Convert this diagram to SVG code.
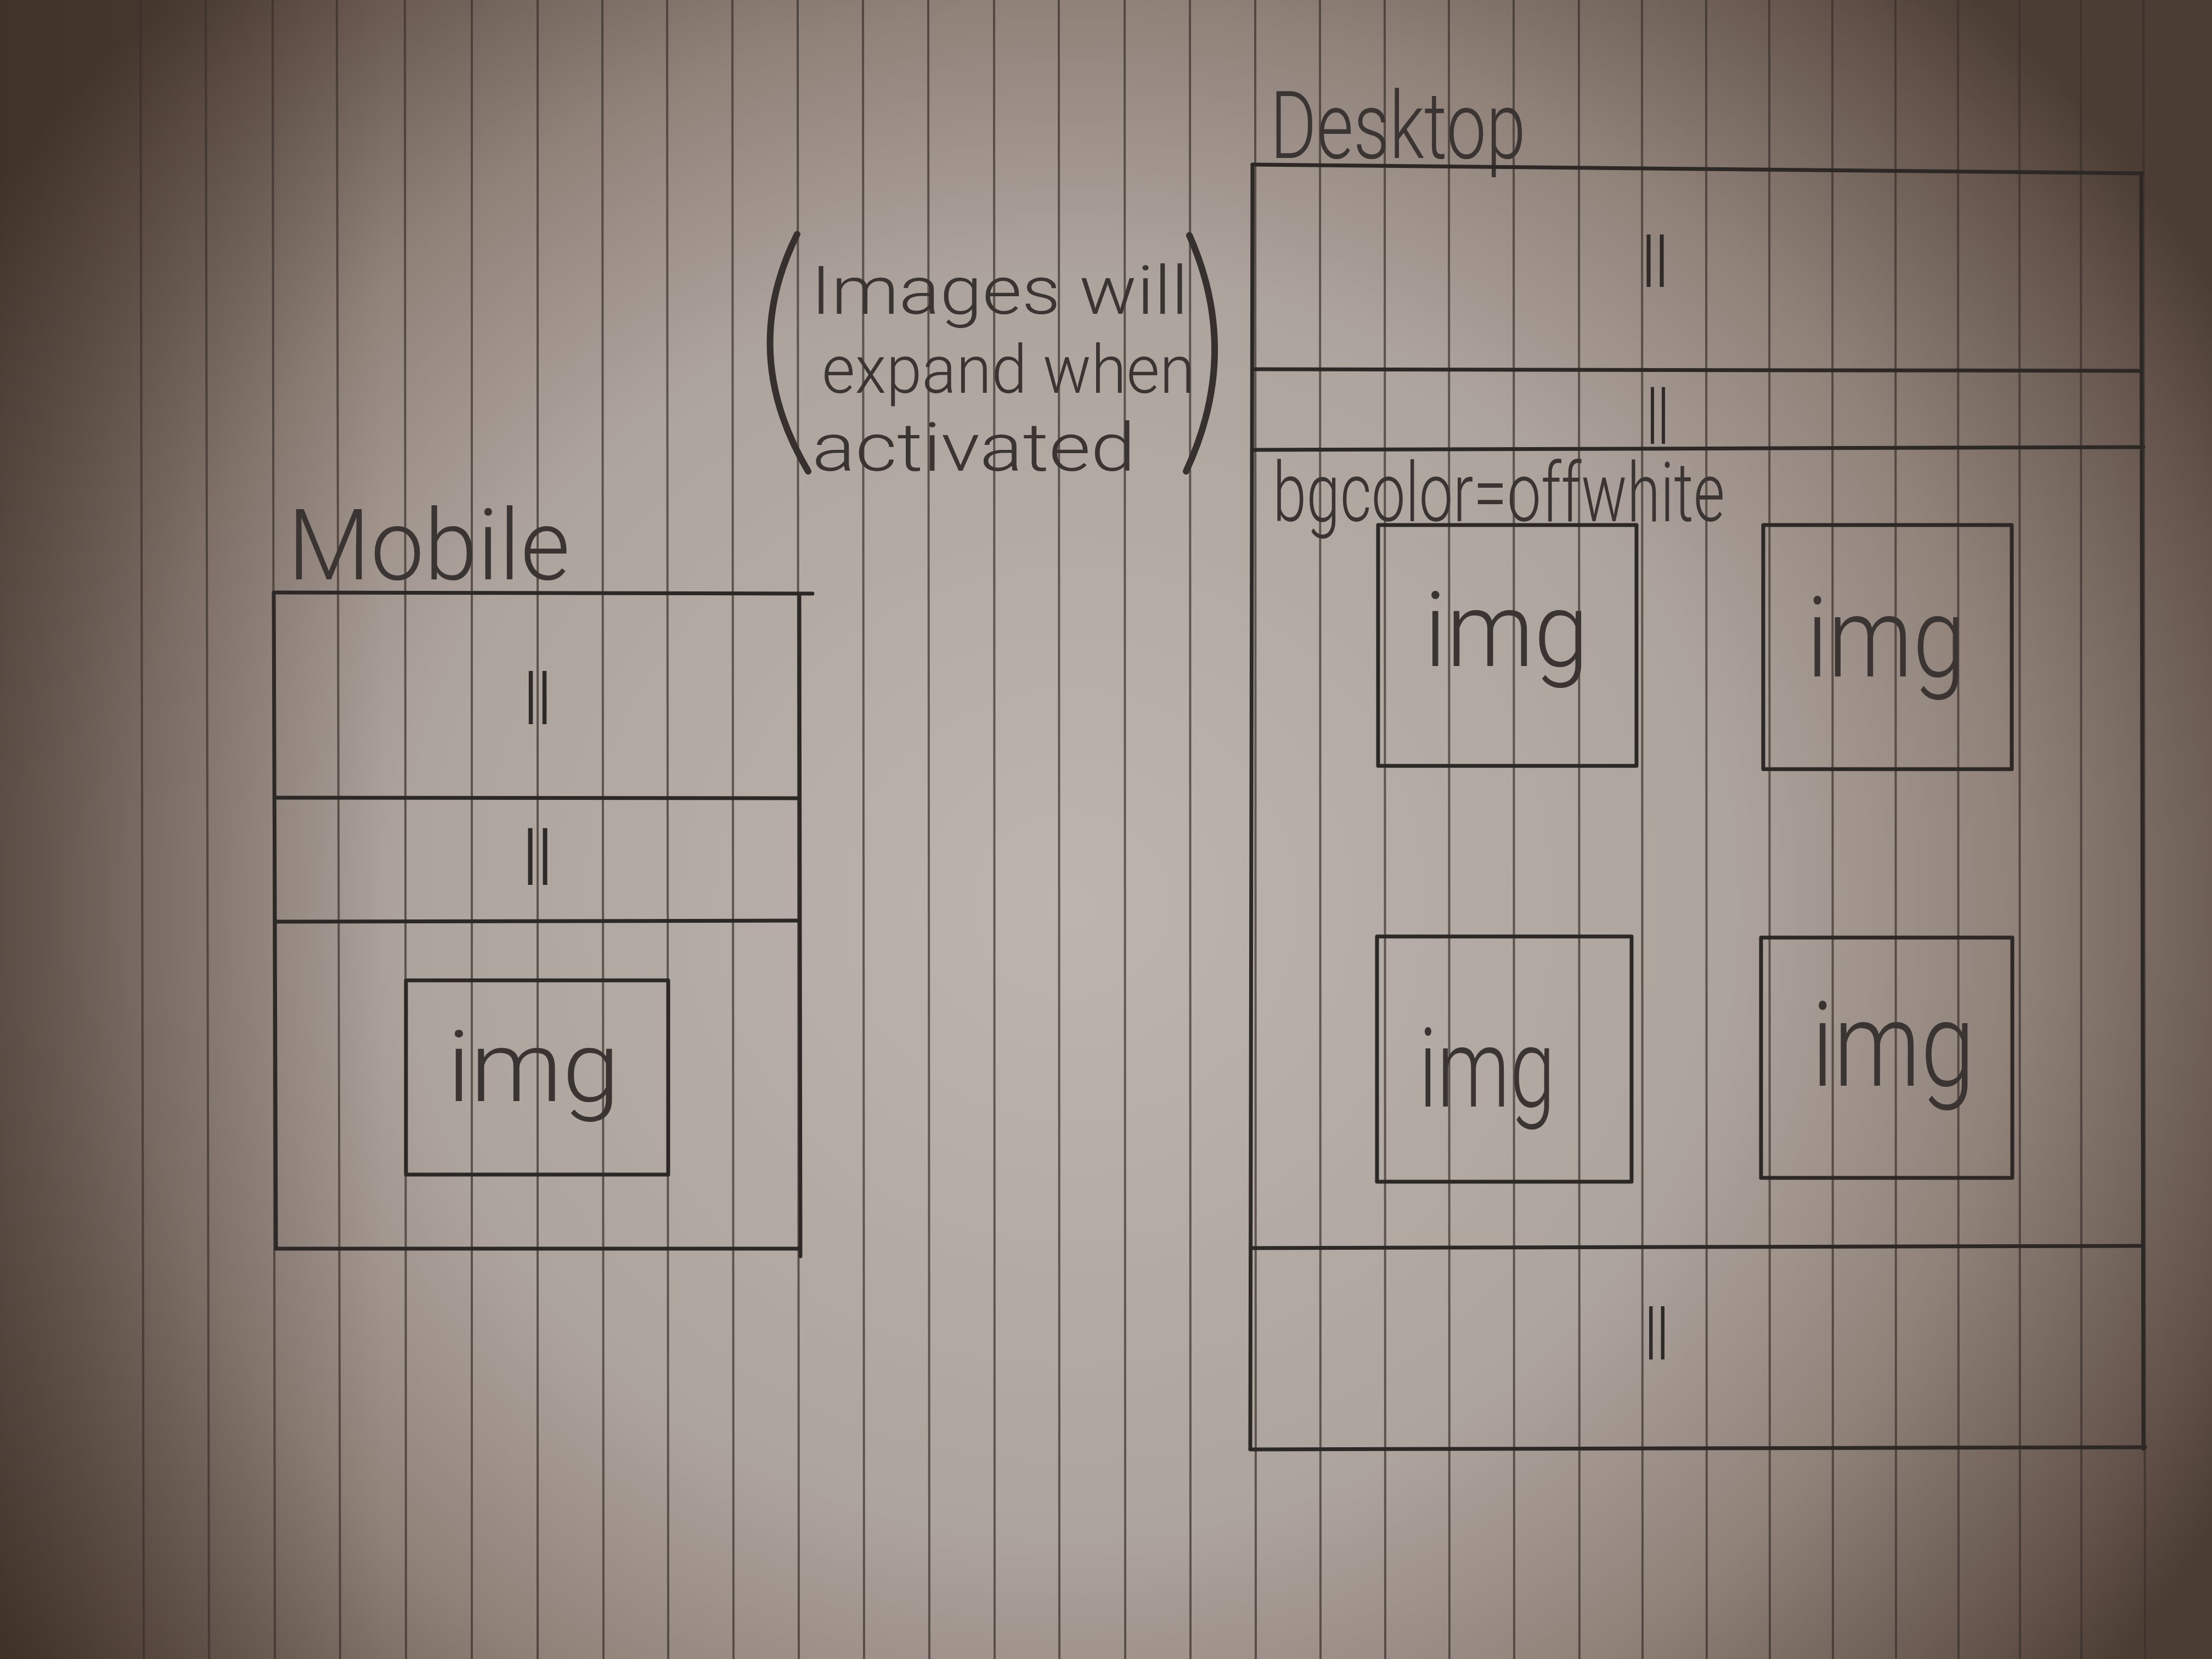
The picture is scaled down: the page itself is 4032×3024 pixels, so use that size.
<svg xmlns="http://www.w3.org/2000/svg" width="4032" height="3024" viewBox="0 0 4032 3024">
  <defs>
    <radialGradient id="paperLight" gradientUnits="userSpaceOnUse" cx="1950" cy="1650" r="2400" gradientTransform="translate(1950 1650) scale(1 0.95) translate(-1950 -1650)">
      <stop offset="0" stop-color="#bcb4af"/>
      <stop offset="0.5" stop-color="#aea49e"/>
      <stop offset="0.72" stop-color="#908279"/>
      <stop offset="0.92" stop-color="#62524a"/>
      <stop offset="1" stop-color="#4c3d34"/>
    </radialGradient>
    <linearGradient id="leftShade" x1="0" y1="0" x2="1" y2="0">
      <stop offset="0" stop-color="#2e2019" stop-opacity="0.4"/>
      <stop offset="1" stop-color="#2e2019" stop-opacity="0"/>
    </linearGradient>
    <style>
      .rule { stroke: #3a302b; stroke-opacity: 0.7; stroke-width: 4; fill: none; }
      .ink { stroke: #2c2826; stroke-width: 7; fill: none; stroke-linecap: round; stroke-linejoin: round; }
      .bracket { stroke: #36312e; stroke-width: 12; fill: none; stroke-linecap: round; }
      .hand { font-family: Roboto, "Liberation Sans", Arial, sans-serif; font-weight: 300; fill: #3a3532; }
      .mark { font-family: Roboto, "Liberation Sans", Arial, sans-serif; font-weight: 400; fill: #2e2a28; text-anchor: middle; }
    </style>
  </defs>

  <!-- paper with uneven lighting -->
  <g id="paper">
    <rect x="0" y="0" width="4032" height="3024" fill="url(#paperLight)"/>
    <rect x="0" y="0" width="700" height="3024" fill="url(#leftShade)"/>
    <g id="rules">
      <path class="rule" d="M256,0 L262,3024"/>
      <path class="rule" d="M375,0 L381,3024"/>
      <path class="rule" d="M497,0 L501,3024"/>
      <path class="rule" d="M614,0 L620,3024"/>
      <path class="rule" d="M738,0 L740,3024"/>
      <path class="rule" d="M860,0 L860,3024"/>
      <path class="rule" d="M980,0 L980,3024"/>
      <path class="rule" d="M1098,0 L1100,3024"/>
      <path class="rule" d="M1216,0 L1218,3024"/>
      <path class="rule" d="M1335,0 L1337,3024"/>
      <path class="rule" d="M1454,0 L1456,3024"/>
      <path class="rule" d="M1573,0 L1575,3024"/>
      <path class="rule" d="M1692,0 L1694,3024"/>
      <path class="rule" d="M1812,0 L1813,3024"/>
      <path class="rule" d="M1930,0 L1931,3024"/>
      <path class="rule" d="M2050,0 L2051,3024"/>
      <path class="rule" d="M2169,0 L2170,3024"/>
      <path class="rule" d="M2288,0 L2289,3024"/>
      <path class="rule" d="M2406,0 L2407,3024"/>
      <path class="rule" d="M2524,0 L2525,3024"/>
      <path class="rule" d="M2641,0 L2642,3024"/>
      <path class="rule" d="M2759,0 L2760,3024"/>
      <path class="rule" d="M2878,0 L2879,3024"/>
      <path class="rule" d="M2993,0 L2994,3024"/>
      <path class="rule" d="M3110,0 L3111,3024"/>
      <path class="rule" d="M3225,0 L3226,3024"/>
      <path class="rule" d="M3340,0 L3341,3024"/>
      <path class="rule" d="M3455,0 L3456,3024"/>
      <path class="rule" d="M3569,0 L3570,3024"/>
      <path class="rule" d="M3681,0 L3682,3024"/>
      <path class="rule" d="M3793,0 L3794,3024"/>
      <path class="rule" d="M3907,0 L3910,3024"/>
    </g>
  </g>

  <!-- side note, wrapped in tall round brackets -->
  <g id="note">
    <path class="bracket" d="M1453,427 Q1345,643 1473,859"/>
    <text class="hand" x="1478" y="572" font-size="122" textLength="688" lengthAdjust="spacingAndGlyphs">Images will</text>
    <text class="hand" x="1498" y="716" font-size="122" textLength="680" lengthAdjust="spacingAndGlyphs">expand when</text>
    <text class="hand" x="1480" y="858" font-size="122" textLength="590" lengthAdjust="spacingAndGlyphs">activated</text>
    <path class="bracket" d="M2168,429 Q2263,643 2162,859"/>
  </g>

  <!-- mobile layout -->
  <g id="mobile">
    <text class="hand" x="524" y="1056" font-size="180" textLength="515" lengthAdjust="spacingAndGlyphs">Mobile</text>
    <g id="mobile-frame">
      <path class="ink" d="M501,1080 L1481,1082"/>
      <path class="ink" d="M499,1080 L503,2276"/>
      <path class="ink" d="M1457,1084 L1459,2290"/>
      <path class="ink" d="M503,2276 L1458,2276"/>
    </g>
    <g id="mobile-header">
      <path class="ink" d="M501,1454 L1457,1455"/>
      <text class="mark" x="980" y="1305" font-size="115" textLength="50" lengthAdjust="spacingAndGlyphs">||</text>
    </g>
    <g id="mobile-nav">
      <path class="ink" d="M503,1680 L1457,1678"/>
      <text class="mark" x="980" y="1597" font-size="123" textLength="54" lengthAdjust="spacingAndGlyphs">||</text>
    </g>
    <g id="mobile-img">
      <rect class="ink" x="740" y="1787" width="478" height="354"/>
      <text class="hand" x="815" y="2007" font-size="180" textLength="315" lengthAdjust="spacingAndGlyphs">img</text>
    </g>
  </g>

  <!-- desktop layout -->
  <g id="desktop">
    <text class="hand" x="2315" y="288" font-size="170" textLength="466" lengthAdjust="spacingAndGlyphs">Desktop</text>
    <g id="desktop-frame">
      <path class="ink" d="M2283,300 L3905,316"/>
      <path class="ink" d="M2283,300 L2279,2641"/>
      <path class="ink" d="M3903,316 L3907,2641"/>
      <path class="ink" d="M2279,2642 L3910,2638"/>
    </g>
    <g id="desktop-header">
      <path class="ink" d="M2283,673 L3903,676"/>
      <text class="mark" x="3017" y="508" font-size="114" textLength="48" lengthAdjust="spacingAndGlyphs">||</text>
    </g>
    <g id="desktop-nav">
      <path class="ink" d="M2283,820 L3907,815" stroke-width="9"/>
      <text class="mark" x="3022" y="793" font-size="122" textLength="40" lengthAdjust="spacingAndGlyphs">||</text>
    </g>
    <g id="desktop-gallery">
      <text class="hand" x="2320" y="950" font-size="150" textLength="824" lengthAdjust="spacingAndGlyphs">bgcolor=offwhite</text>
      <g id="img-1">
        <rect class="ink" x="2512" y="957" width="471" height="439"/>
        <text class="hand" x="2596" y="1214" font-size="190" textLength="300" lengthAdjust="spacingAndGlyphs">img</text>
      </g>
      <g id="img-2">
        <rect class="ink" x="3214" y="957" width="453" height="445"/>
        <text class="hand" x="3293" y="1233" font-size="205" textLength="290" lengthAdjust="spacingAndGlyphs">img</text>
      </g>
      <g id="img-3">
        <rect class="ink" x="2510" y="1707" width="464" height="447"/>
        <text class="hand" x="2586" y="2017" font-size="200" textLength="249" lengthAdjust="spacingAndGlyphs">img</text>
      </g>
      <g id="img-4">
        <rect class="ink" x="3210" y="1709" width="458" height="438"/>
        <text class="hand" x="3302" y="1979" font-size="215" textLength="298" lengthAdjust="spacingAndGlyphs">img</text>
      </g>
    </g>
    <g id="desktop-footer">
      <path class="ink" d="M2280,2275 L3905,2271"/>
      <text class="mark" x="3020" y="2463" font-size="115" textLength="43" lengthAdjust="spacingAndGlyphs">||</text>
    </g>
  </g>
</svg>
